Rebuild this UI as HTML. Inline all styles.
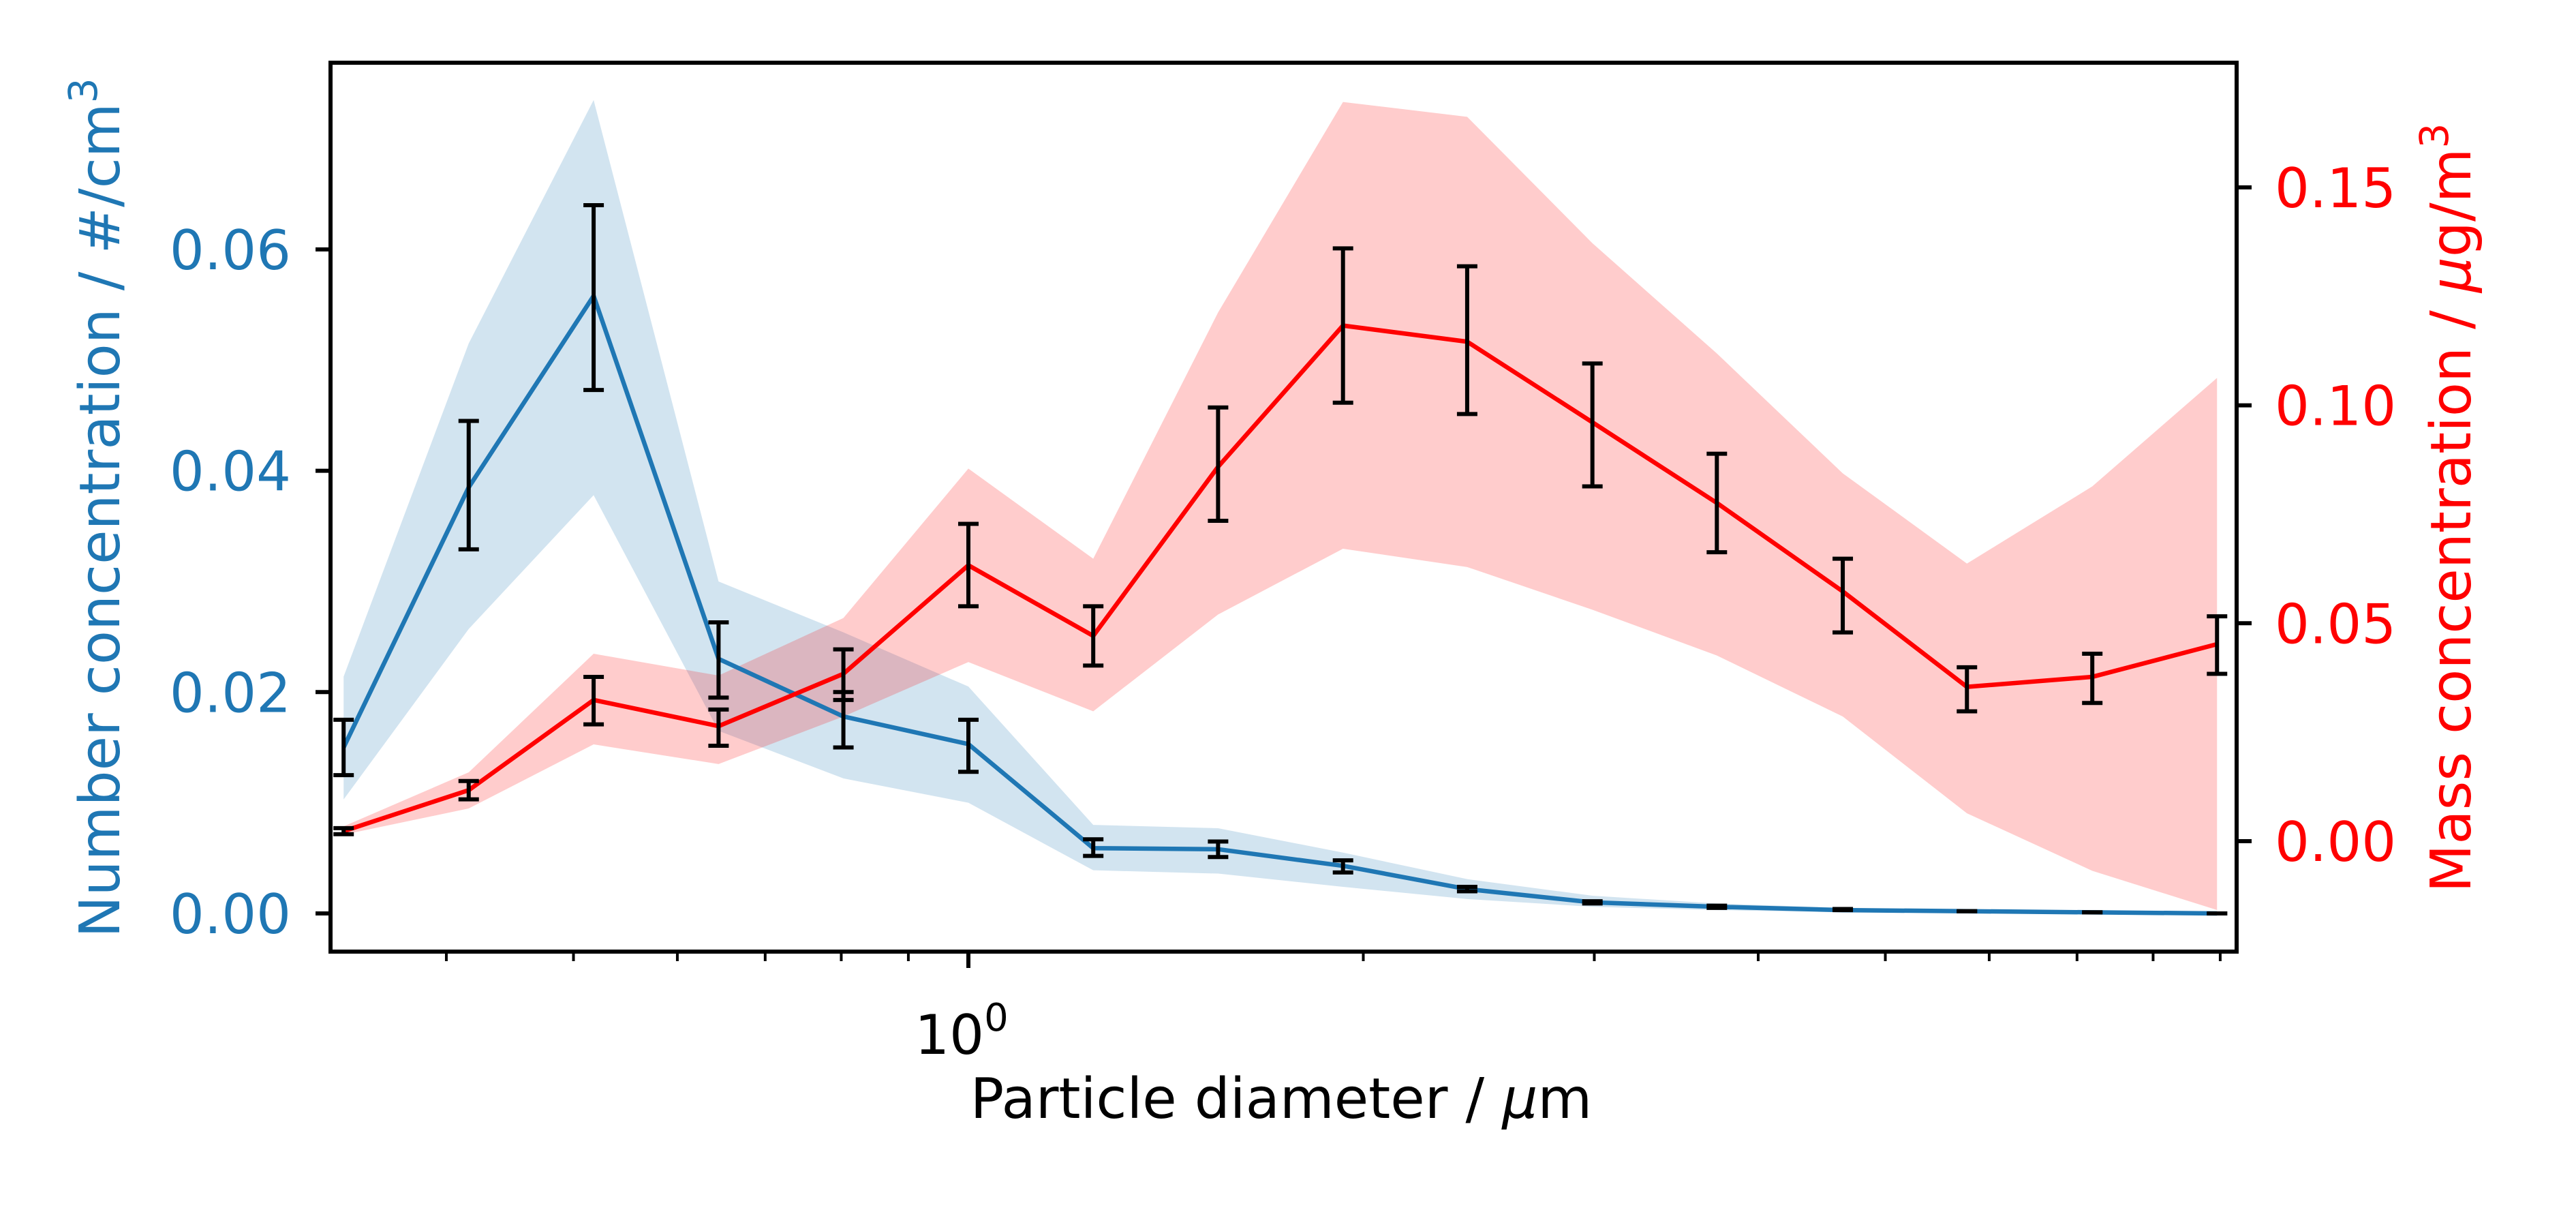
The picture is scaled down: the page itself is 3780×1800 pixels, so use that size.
<!DOCTYPE html>
<html><head><meta charset="utf-8">
<style>
html,body{margin:0;padding:0;background:#fff;}
svg{display:block;font-family:"DejaVu Sans","Liberation Sans",sans-serif;}
</style></head>
<body>
<svg id="chart" width="3780" height="1800" viewBox="0 0 3780 1800" xmlns="http://www.w3.org/2000/svg">
<g id="layer-bands"></g>
<g id="layer-lines"></g>
<g id="layer-err"></g>
<g id="layer-axes"></g>
<text x="1880" y="1640" font-size="82" text-anchor="middle" fill="#000">Particle diameter / <tspan font-style="italic">μ</tspan>m</text>
<text transform="translate(175,745) rotate(-90)" font-size="82" text-anchor="middle" fill="#1f77b4">Number concentration / #/cm<tspan font-size="58" dy="-33">3</tspan></text>
<text transform="translate(3625,745) rotate(-90)" font-size="82" text-anchor="middle" fill="#ff0000">Mass concentration / <tspan font-style="italic">μ</tspan>g/m<tspan font-size="58" dy="-33">3</tspan></text>
</svg>
<script>
const diameters = [0.334,0.416,0.518,0.645,0.803,1.0,1.245,1.55,1.93,2.40,2.99,3.72,4.64,5.77,7.19,8.95];
const numMean = [0.0150,0.0385,0.0558,0.0230,0.0178,0.0153,0.0059,0.0058,0.0043,0.0022,0.0010,0.0006,0.0003,0.0002,0.0001,0.0000];
const numErrHi = [0.0175,0.0445,0.0640,0.0263,0.0200,0.0175,0.0067,0.0065,0.0048,0.0024,0.0011,0.0007,0.0004,0.0002,0.0001,0.0000];
const numErrLo = [0.0125,0.0329,0.0473,0.0195,0.0150,0.0128,0.0052,0.0051,0.0037,0.0020,0.0009,0.0005,0.0003,0.0002,0.0001,0.0000];
const numBandHi = [0.0214,0.0515,0.0735,0.0300,0.0254,0.0205,0.0080,0.0077,0.0055,0.0031,0.0016,0.0009,0.0005,0.0003,0.0002,0.0001];
const numBandLo = [0.0103,0.0257,0.0378,0.0165,0.0122,0.0100,0.0039,0.0036,0.0024,0.0013,0.0006,0.0003,0.0001,0.0001,0.0000,0.0000];
const massMean = [0.0023,0.0117,0.0324,0.0264,0.0384,0.0633,0.0471,0.0859,0.1183,0.1146,0.0961,0.0776,0.0573,0.0354,0.0377,0.0452];
const massErrHi = [0.0030,0.0138,0.0377,0.0302,0.0440,0.0728,0.0539,0.0995,0.1360,0.1319,0.1096,0.0889,0.0648,0.0399,0.0430,0.0516];
const massErrLo = [0.0016,0.0096,0.0268,0.0219,0.0324,0.0539,0.0403,0.0735,0.1006,0.0980,0.0814,0.0663,0.0479,0.0298,0.0317,0.0384];
const massBandHi = [0.0034,0.0158,0.0430,0.0380,0.0512,0.0855,0.0648,0.1213,0.1696,0.1662,0.1372,0.1119,0.0844,0.0637,0.0814,0.1063];
const massBandLo = [0.0015,0.0075,0.0222,0.0177,0.0286,0.0411,0.0298,0.0520,0.0671,0.0629,0.0531,0.0426,0.0286,0.0064,-0.0068,-0.0158];
const leftTicks = [0, 0.02, 0.04, 0.06];
const leftTickLabels = ["0.00","0.02","0.04","0.06"];
const rightTicks = [0, 0.05, 0.10, 0.15];
const rightTickLabels = ["0.00","0.05","0.10","0.15"];
const minorXTicks = [0.4,0.5,0.6,0.7,0.8,0.9,2,3,4,5,6,7,8,9];

const NS = "http://www.w3.org/2000/svg";
const L = 485, R = 3282, T = 92, B = 1396;
function xScale(d){ return 1421 + Math.log10(d) * 1925; }
function yLeft(v){ return 1340 - v / 0.02 * 324.7; }
function yRight(v){ return 1234 - v / 0.05 * 319.7; }
function mk(tag, attrs, parent){
  const e = document.createElementNS(NS, tag);
  for (const k in attrs) e.setAttribute(k, attrs[k]);
  parent.appendChild(e);
  return e;
}
const bands = document.getElementById('layer-bands');
const lines = document.getElementById('layer-lines');
const errs = document.getElementById('layer-err');
const axes = document.getElementById('layer-axes');

function bandPath(hi, lo, ys){
  let p = '';
  diameters.forEach((d,i)=>{ p += (i?'L':'M') + xScale(d) + ',' + ys(hi[i]); });
  for (let i = diameters.length-1; i >= 0; i--) p += 'L' + xScale(diameters[i]) + ',' + ys(lo[i]);
  return p + 'Z';
}
function linePath(vals, ys){
  let p = '';
  diameters.forEach((d,i)=>{ p += (i?'L':'M') + xScale(d) + ',' + ys(vals[i]); });
  return p;
}
const nb = mk('path', {d: bandPath(numBandHi, numBandLo, yLeft), fill:'#1f77b4', 'fill-opacity':'0.2'}, bands);


const mb = mk('path', {d: bandPath(massBandHi, massBandLo, yRight), fill:'#ff0000', 'fill-opacity':'0.2'}, bands);


const nl = mk('path', {d: linePath(numMean, yLeft), fill:'none', stroke:'#1f77b4', 'stroke-width':'6.5', 'stroke-linejoin':'round'}, lines);


const ml = mk('path', {d: linePath(massMean, yRight), fill:'none', stroke:'#ff0000', 'stroke-width':'6.5', 'stroke-linejoin':'round'}, lines);



function errBar(x, y1, y2, name){
  const g = mk('g', {stroke:'#000', 'stroke-width':'6'}, errs);
  
  
  mk('line', {x1:x, x2:x, y1:y1, y2:y2}, g);
  mk('line', {x1:x-15, x2:x+15, y1:y1, y2:y1}, g);
  mk('line', {x1:x-15, x2:x+15, y1:y2, y2:y2}, g);
}
diameters.forEach((d,i)=>{
  errBar(xScale(d), yLeft(numErrHi[i]), yLeft(numErrLo[i]), 'number-error-bar');
  errBar(xScale(d), yRight(massErrHi[i]), yRight(massErrLo[i]), 'mass-error-bar');
});

const frame = mk('rect', {x:L, y:T, width:R-L, height:B-T, fill:'none', stroke:'#000', 'stroke-width':'6'}, axes);


leftTicks.forEach((v,i)=>{
  const y = yLeft(v);
  const t = mk('line', {x1:L-22, x2:L, y1:y, y2:y, stroke:'#000', 'stroke-width':'6'}, axes);
  
  
  const tx = mk('text', {x:L-58, y:y+29, 'font-size':'80', 'text-anchor':'end', fill:'#1f77b4'}, axes);
  tx.textContent = leftTickLabels[i];
  
  
});
rightTicks.forEach((v,i)=>{
  const y = yRight(v);
  const t = mk('line', {x1:R, x2:R+22, y1:y, y2:y, stroke:'#000', 'stroke-width':'6'}, axes);
  
  
  const tx = mk('text', {x:R+56, y:y+29, 'font-size':'80', 'text-anchor':'start', fill:'#ff0000'}, axes);
  tx.textContent = rightTickLabels[i];
  
  
});
minorXTicks.forEach(d=>{
  const x = xScale(d);
  const t = mk('line', {x1:x, x2:x, y1:B, y2:B+14, stroke:'#000', 'stroke-width':'4'}, axes);
  
  
});
const mt = mk('line', {x1:xScale(1), x2:xScale(1), y1:B, y2:B+24, stroke:'#000', 'stroke-width':'6'}, axes);


const xl = mk('text', {x:xScale(1)-10, y:B+150, 'font-size':'80', 'text-anchor':'middle', fill:'#000'}, axes);


xl.innerHTML = '10<tspan font-size="56" dy="-34">0</tspan>';
</script>
</body></html>
